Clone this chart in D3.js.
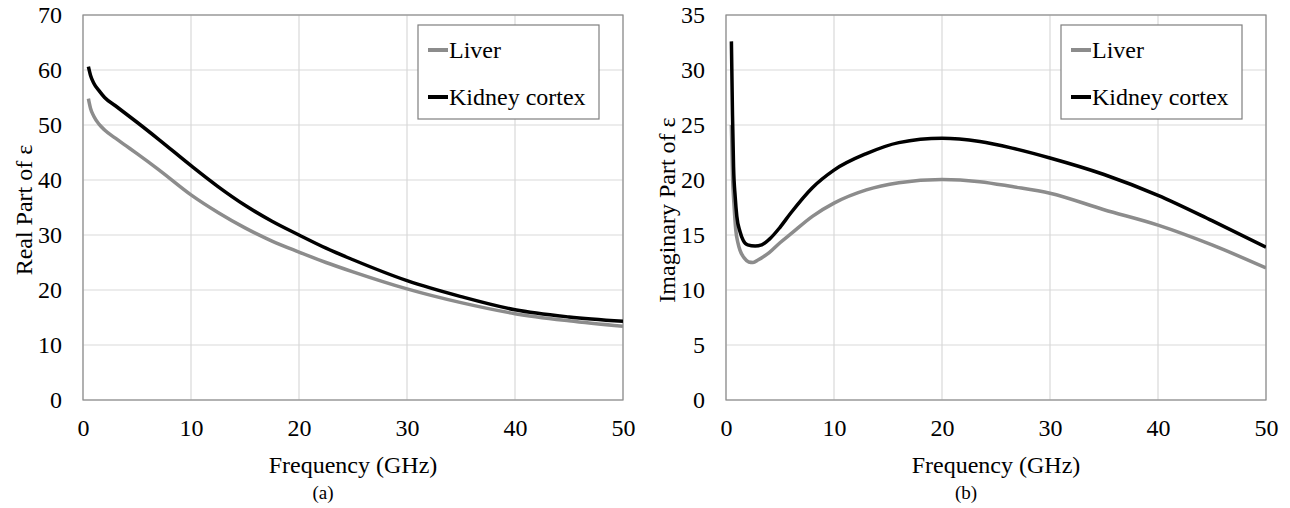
<!DOCTYPE html>
<html lang="en">
<head>
<meta charset="utf-8">
<title>Dielectric permittivity of liver and kidney cortex</title>
<script src="https://d3js.org/d3.v7.min.js"></script>
<style>
  body { margin: 0; background: #fff; }
  svg text { font-family: "Liberation Serif", "Times New Roman", serif; fill: #000; }
</style>
</head>
<body>
<script>
// ---- data ----
var seriesNames = ["Liver", "Kidney cortex"];
var xTicks = [0, 10, 20, 30, 40, 50];
var realTicks = [0, 10, 20, 30, 40, 50, 60, 70];
var imagTicks = [0, 5, 10, 15, 20, 25, 30, 35];

// (a) real part
var realFreq = [0.5, 0.7, 1, 1.5, 2, 3, 4, 5, 7, 10, 12.5, 15, 17.5, 20, 22.5, 25, 30, 35, 40, 45, 50];
var realLiver = [54.8, 53.0, 51.6, 50.1, 49.1, 47.6, 46.2, 44.8, 41.9, 37.3, 34.1, 31.3, 28.9, 26.9, 25.0, 23.3, 20.2, 17.7, 15.7, 14.4, 13.4];
var realKidney = [60.6, 59.0, 57.6, 56.2, 55.0, 53.5, 52.0, 50.5, 47.4, 42.6, 38.8, 35.4, 32.5, 30.0, 27.6, 25.5, 21.7, 18.8, 16.4, 15.1, 14.3];

// (b) imaginary part
var imagFreqLiver = [0.5, 0.6, 0.75, 0.9, 1.1, 1.3, 1.7, 2.1, 2.5, 3, 4, 5, 6, 8, 10, 13, 16, 20, 23.5, 26.5, 30, 35, 40, 45, 50];
var imagLiver = [25.0, 20.5, 17.6, 15.5, 14.3, 13.6, 12.9, 12.55, 12.5, 12.75, 13.4, 14.3, 15.1, 16.7, 17.9, 19.1, 19.75, 20.05, 19.85, 19.4, 18.8, 17.3, 15.9, 14.1, 12.0];
var imagFreqKidney = [0.5, 0.6, 0.7, 0.85, 1, 1.3, 1.6, 2, 2.7, 3.3, 4, 5, 6, 8, 10, 13, 16, 20, 23.5, 26.5, 30, 35, 40, 45, 50];
var imagKidney = [32.6, 26.0, 21.2, 18.5, 16.7, 15.3, 14.5, 14.1, 14.0, 14.1, 14.6, 15.7, 17.0, 19.3, 20.9, 22.4, 23.4, 23.8, 23.5, 22.9, 22.0, 20.5, 18.6, 16.3, 13.9];

var width = 1290, height = 508;
var colors = ["#8c8c8c", "#000000"];

var svg = d3.select("body").append("svg")
    .attr("width", width)
    .attr("height", height);

function zip(xs, ys) {
  return xs.map(function(x, i) { return [x, ys[i]]; });
}

function drawPanel(opt) {
  var left = opt.left, right = opt.left + 540, top = 15, bottom = 400;

  var x = d3.scaleLinear().domain([0, 50]).range([left, right]);
  var y = d3.scaleLinear().domain([0, opt.yMax]).range([bottom, top]);

  var g = svg.append("g");

  // grid
  g.append("g").selectAll("line.h")
      .data(opt.yTicks)
      .enter().append("line")
      .attr("x1", left).attr("x2", right)
      .attr("y1", function(d) { return y(d); })
      .attr("y2", function(d) { return y(d); })
      .attr("stroke", "#d9d9d9").attr("stroke-width", 1.2);
  g.append("g").selectAll("line.v")
      .data(xTicks)
      .enter().append("line")
      .attr("y1", top).attr("y2", bottom)
      .attr("x1", function(d) { return x(d); })
      .attr("x2", function(d) { return x(d); })
      .attr("stroke", "#d9d9d9").attr("stroke-width", 1.2);

  // frame
  g.append("rect")
      .attr("x", left).attr("y", top)
      .attr("width", right - left).attr("height", bottom - top)
      .attr("fill", "none").attr("stroke", "#8c8c8c").attr("stroke-width", 1.2);

  // axes (labels only)
  var ax = g.append("g")
      .attr("transform", "translate(0," + bottom + ")")
      .call(d3.axisBottom(x).tickValues(xTicks).tickSize(0).tickPadding(19));
  ax.select(".domain").remove();
  ax.selectAll("text").style("font-size", "24px").attr("fill", "#000");

  var ay = g.append("g")
      .attr("transform", "translate(" + left + ",0)")
      .call(d3.axisLeft(y).tickValues(opt.yTicks).tickSize(0).tickPadding(21));
  ay.select(".domain").remove();
  ay.selectAll("text").style("font-size", "24px").attr("fill", "#000");

  // titles
  g.append("text")
      .attr("x", (left + right) / 2).attr("y", 473)
      .attr("text-anchor", "middle")
      .style("font-size", "24px")
      .text("Frequency (GHz)");

  g.append("text")
      .attr("transform", "translate(" + (left - 51) + "," + 210 + ") rotate(-90)")
      .attr("text-anchor", "middle")
      .style("font-size", "24px")
      .text(opt.yTitle);

  g.append("text")
      .attr("x", opt.capX).attr("y", 499)
      .attr("text-anchor", "middle")
      .style("font-size", "19px")
      .text(opt.caption);

  // curves
  var clipId = "clip-" + opt.caption.replace(/\W/g, "");
  svg.append("clipPath").attr("id", clipId)
    .append("rect")
      .attr("x", left).attr("y", top)
      .attr("width", right - left).attr("height", bottom - top);

  var line = d3.line()
      .x(function(d) { return x(d[0]); })
      .y(function(d) { return y(d[1]); })
      .curve(d3.curveMonotoneX);

  g.append("g").attr("clip-path", "url(#" + clipId + ")")
    .selectAll("path")
      .data(opt.series)
      .enter().append("path")
      .attr("d", function(d) { return line(d); })
      .attr("fill", "none")
      .attr("stroke", function(d, i) { return colors[i]; })
      .attr("stroke-width", 3.5)
      .attr("stroke-linejoin", "round");

  // legend
  var lg = g.append("g").attr("transform", "translate(" + (left + 335) + ",25)");
  lg.append("rect")
      .attr("width", 181).attr("height", 94)
      .attr("fill", "#fff").attr("stroke", "#7f7f7f").attr("stroke-width", 1.2);
  var item = lg.selectAll("g.item")
      .data(seriesNames)
      .enter().append("g")
      .attr("transform", function(d, i) { return "translate(0," + (25 + i * 47) + ")"; });
  item.append("line")
      .attr("x1", 10).attr("x2", 30)
      .attr("stroke", function(d, i) { return colors[i]; })
      .attr("stroke-width", 4);
  item.append("text")
      .attr("x", 31).attr("dy", "0.34em")
      .style("font-size", "24px")
      .text(function(d) { return d; });
}

drawPanel({
  left: 83, yMax: 70, yTicks: realTicks,
  yTitle: "Real Part of \u03b5", caption: "(a)", capX: 323,
  series: [zip(realFreq, realLiver), zip(realFreq, realKidney)]
});

drawPanel({
  left: 726, yMax: 35, yTicks: imagTicks,
  yTitle: "Imaginary  Part of \u03b5", caption: "(b)", capX: 966,
  series: [zip(imagFreqLiver, imagLiver), zip(imagFreqKidney, imagKidney)]
});
</script>
</body>
</html>
